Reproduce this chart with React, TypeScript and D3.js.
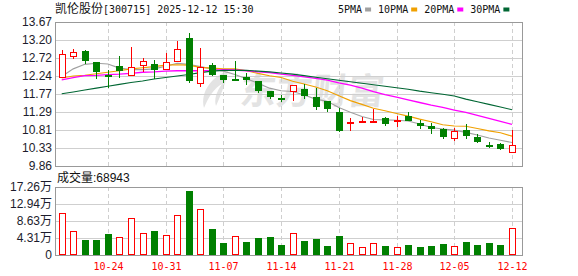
import React from 'react';
import * as d3 from 'd3';

const dates = [
  '10-20', '10-21', '10-22', '10-23', '10-24',
  '10-27', '10-28', '10-29', '10-30', '10-31',
  '11-03', '11-04', '11-05', '11-06', '11-07',
  '11-10', '11-11', '11-12', '11-13', '11-14',
  '11-17', '11-18', '11-19', '11-20', '11-21',
  '11-24', '11-25', '11-26', '11-27', '11-28',
  '12-01', '12-02', '12-03', '12-04', '12-05',
  '12-08', '12-09', '12-10', '12-11', '12-12',
];

const openP = [
  12.21, 12.78, 12.91, 12.61, 12.26, 12.51, 12.26, 12.52, 12.56, 12.43,
  12.63, 13.24, 12.06, 12.54, 12.26, 12.15, 12.21, 12.12, 11.84, 11.65,
  11.85, 11.91, 11.68, 11.59, 11.28, 11.03, 11.05, 11.05, 11.12, 11.06,
  11.18, 11.0, 10.91, 10.85, 10.61, 10.8, 10.63, 10.42, 10.43, 10.23,
];
const closeP = [
  12.82, 12.87, 12.63, 12.36, 12.25, 12.38, 12.49, 12.63, 12.41, 12.61,
  12.95, 12.1, 12.49, 12.26, 12.13, 12.14, 12.13, 11.84, 11.69, 11.64,
  11.99, 11.7, 11.41, 11.37, 10.78, 11.03, 11.05, 11.05, 10.98, 11.07,
  11.05, 10.91, 10.85, 10.63, 10.78, 10.65, 10.49, 10.41, 10.3, 10.42,
];
const highP = [
  12.93, 12.96, 12.93, 12.61, 12.41, 12.78, 13.0, 12.73, 12.67, 12.85,
  13.17, 13.39, 12.99, 12.58, 12.26, 12.65, 12.32, 12.12, 11.84, 11.75,
  11.99, 12.04, 11.93, 11.59, 11.4, 11.14, 11.16, 11.37, 11.16, 11.18,
  11.28, 11.09, 10.99, 10.87, 10.87, 10.98, 10.7, 10.49, 10.48, 10.81,
];
const lowP = [
  12.18, 12.69, 12.56, 12.16, 11.93, 12.2, 12.26, 12.35, 12.16, 12.43,
  12.62, 12.06, 11.94, 12.23, 12.06, 12.1, 11.99, 11.79, 11.64, 11.55,
  11.57, 11.64, 11.35, 11.28, 10.77, 10.78, 11.02, 11.0, 10.91, 10.89,
  11.05, 10.85, 10.7, 10.58, 10.52, 10.58, 10.46, 10.33, 10.28, 10.23,
];
const prevClose = 12.2;

// volume in 万手
const volume = [
  10.58, 6.0, 3.81, 3.81, 5.33, 4.49, 9.31, 5.5, 6.09, 5.0,
  10.07, 16.24, 11.68, 6.6, 3.05, 4.82, 3.3, 4.31, 4.57, 2.54,
  5.5, 3.55, 4.06, 2.28, 4.82, 2.96, 1.95, 2.96, 2.28, 1.95,
  2.54, 2.03, 2.28, 2.71, 2.2, 3.3, 2.54, 3.05, 2.54, 6.8943,
];

const ma5 = [
  12.23, 12.43, 12.55, 12.58, 12.56, 12.45, 12.41, 12.41, 12.43, 12.5,
  12.58, 12.55, 12.49, 12.43, 12.37, 12.28, 12.17, 12.05, 11.92, 11.85,
  11.83, 11.74, 11.63, 11.57, 11.41, 11.28, 11.17, 11.09, 11.08, 11.07,
  11.05, 10.97, 10.88, 10.84, 10.81, 10.75, 10.68, 10.6, 10.54, 10.48,
];
const ma10 = [
  12.19, 12.24, 12.26, 12.3, 12.34, 12.38, 12.43, 12.46, 12.49, 12.53,
  12.54, 12.53, 12.47, 12.45, 12.43, 12.43, 12.38, 12.31, 12.25, 12.2,
  12.1, 12.03, 11.95, 11.85, 11.72, 11.59, 11.49, 11.39, 11.32, 11.25,
  11.18, 11.1, 11.03, 10.95, 10.92, 10.91, 10.85, 10.79, 10.74, 10.65,
];
const ma20 = [
  12.14, 12.2, 12.25, 12.26, 12.28, 12.29, 12.31, 12.34, 12.35, 12.37,
  12.38, 12.38, 12.38, 12.39, 12.41, 12.4, 12.38, 12.35, 12.33, 12.29,
  12.26, 12.22, 12.18, 12.13, 12.06, 12.0, 11.92, 11.83, 11.75, 11.68,
  11.61, 11.54, 11.47, 11.41, 11.34, 11.28, 11.2, 11.12, 11.04, 10.96,
];
const ma30 = [
  11.77, 11.82, 11.87, 11.92, 11.97, 12.02, 12.07, 12.11, 12.16, 12.2,
  12.24, 12.28, 12.33, 12.37, 12.39, 12.39, 12.39, 12.37, 12.35, 12.32,
  12.29, 12.25, 12.21, 12.17, 12.13, 12.09, 12.05, 12.01, 11.97, 11.93,
  11.89, 11.84, 11.8, 11.76, 11.71, 11.63, 11.56, 11.49, 11.42, 11.35,
];

const priceTicks = [13.67, 13.2, 12.72, 12.24, 11.77, 11.29, 10.81, 10.33, 9.86];
const volTicks = [17.26, 12.94, 8.63, 4.31, 0];
const dateTicks = ['10-24', '10-31', '11-07', '11-14', '11-21', '11-28', '12-05', '12-12'];

const maNames = ['5PMA', '10PMA', '20PMA', '30PMA'];
const maColors = ['#a0a0a0', '#f0a000', '#ff00ff', '#006633'];
const maSeries = [ma5, ma10, ma20, ma30];

const stockName = '凯伦股份';
const stockInfo = '[300715] 2025-12-12 15:30';
const watermark = '东方财富';

const RED = '#ff0000';
const GREEN = '#008000';
const MONO = "'DejaVu Sans Mono', monospace";
const CJK = "'Noto Sans CJK SC', sans-serif";
const SANS = "'Liberation Sans', Arial, 'Noto Sans CJK SC', sans-serif";

export default function App() {
  const W = 578;
  const H = 276;
  const L = 55, R = 522, T = 22, MB = 166, VT = 187, VB = 255;

  const x = d3.scalePoint<string>().domain(dates).range([61.7, 512]);
  const y = d3
    .scaleLinear()
    .domain([priceTicks[priceTicks.length - 1], priceTicks[0]])
    .range([MB, T]);
  const yv = d3.scaleLinear().domain([0, volTicks[0]]).range([VB, VT]);

  const cxOf = (d: string) => Math.round(x(d) as number) + 0.5;

  const lineGen = d3
    .line<number>()
    .x((_, i) => x(dates[i]) as number)
    .y((v) => y(v));

  const tickXs = dateTicks.map((d) => cxOf(d));

  // legend layout
  const charW = 6.02;
  let lx = 338;
  const legend = maNames.map((n, i) => {
    const tx = lx;
    const sq = tx + n.length * charW + 3;
    lx = sq + 6 + 7;
    return { n, tx, sq, color: maColors[i] };
  });

  return (
    <svg
      width={W}
      height={H}
      style={{ position: 'absolute', left: 0, top: 0, background: '#fff' }}
    >
      <rect x={0} y={0} width={W} height={H} fill="#fff" />
      {/* title */}
      <text x={55} y={13} fill="#111">
        <tspan fontFamily={CJK} fontSize={12}>{stockName}</tspan>
        <tspan fontFamily={MONO} fontSize={10}>{stockInfo}</tspan>
      </text>
      {/* legend */}
      {legend.map((it) => (
        <g key={it.n}>
          <text x={it.tx} y={12.5} fontFamily={MONO} fontSize={10} fill="#111">
            {it.n}
          </text>
          <rect x={it.sq} y={7.5} width={6} height={4} fill={it.color} />
        </g>
      ))}

      {/* watermark */}
      <g fill="#e3e3e3">
        <text
          x={240}
          y={104}
          fontFamily={CJK}
          fontSize={36}
          fontWeight={700}
          transform="skewX(-6) translate(10,0)"
        >
          {watermark}
        </text>
        <path d="M228,71 C212,76 200,92 204,108 C208,98 214,88 222,84 C216,92 214,100 216,106 C222,92 226,82 228,71 Z" />
      </g>

      {/* main grid */}
      {priceTicks.slice(1, -1).map((p) => (
        <line
          key={'hg' + p}
          x1={L}
          x2={R}
          y1={Math.round(y(p)) + 0.5}
          y2={Math.round(y(p)) + 0.5}
          stroke="#cfcfcf"
        />
      ))}
      {tickXs.map((tx, i) => (
        <line
          key={'vg' + i}
          x1={tx}
          x2={tx}
          y1={T}
          y2={MB}
          stroke="#cfcfcf"
          strokeDasharray="4,3"
        />
      ))}
      <rect x={L + 0.5} y={T + 0.5} width={R - L} height={MB - T} fill="none" stroke="#999" />

      {/* price labels */}
      {priceTicks.map((p) => (
        <text
          key={'pl' + p}
          x={52}
          y={y(p)}
          textAnchor="end"
          dominantBaseline="central"
          fontFamily={SANS}
          fontSize={12}
          fill="#1c1c2c"
        >
          {p.toFixed(2)}
        </text>
      ))}

      {/* MA lines */}
      {maSeries.map((s, i) => (
        <path
          key={'ma' + i}
          d={lineGen(s) || ''}
          fill="none"
          stroke={maColors[i]}
          strokeWidth={i === 2 ? 1.3 : 1.1}
        />
      ))}

      {/* candles */}
      {dates.map((d, i) => {
        const cx = cxOf(d);
        const o = openP[i], c = closeP[i], h = highP[i], l = lowP[i];
        const up = c >= o;
        const yTop = Math.round(y(Math.max(o, c)));
        const yBot = Math.round(y(Math.min(o, c)));
        const yH = Math.round(y(h));
        const yL = Math.round(y(l));
        if (up) {
          const bh = Math.max(yBot - yTop, 1);
          return (
            <g key={'c' + i}>
              {yH < yTop && <line x1={cx} x2={cx} y1={yH} y2={yTop} stroke={RED} />}
              {yL > yTop + bh + 1 && (
                <line x1={cx} x2={cx} y1={yTop + bh + 1} y2={yL} stroke={RED} />
              )}
              <rect x={cx - 3} y={yTop + 0.5} width={6} height={bh} fill="#fff" stroke={RED} />
            </g>
          );
        }
        const bh = Math.max(yBot - yTop, 2);
        return (
          <g key={'c' + i}>
            <line x1={cx} x2={cx} y1={yH} y2={Math.max(yL, yTop + bh)} stroke={GREEN} />
            <rect x={cx - 3.5} y={yTop} width={7} height={bh} fill={GREEN} />
          </g>
        );
      })}

      {/* volume header */}
      <text x={57} y={181.5} fill="#111">
        <tspan fontFamily={CJK} fontSize={12}>成交量</tspan>
        <tspan fontFamily={SANS} fontSize={12}>
          {':' + Math.round(volume[volume.length - 1] * 10000)}
        </tspan>
      </text>

      {/* volume grid */}
      {volTicks.slice(1, -1).map((v) => (
        <line
          key={'vhg' + v}
          x1={L}
          x2={R}
          y1={Math.round(yv(v)) + 0.5}
          y2={Math.round(yv(v)) + 0.5}
          stroke="#cfcfcf"
        />
      ))}
      {tickXs.map((tx, i) => (
        <line
          key={'vvg' + i}
          x1={tx}
          x2={tx}
          y1={VT}
          y2={VB}
          stroke="#cfcfcf"
          strokeDasharray="4,3"
        />
      ))}
      <rect x={L + 0.5} y={VT + 0.5} width={R - L} height={VB - VT} fill="none" stroke="#999" />

      {volTicks.map((v) => (
        <text
          key={'vl' + v}
          x={52}
          y={yv(v)}
          textAnchor="end"
          dominantBaseline="central"
          fontFamily={SANS}
          fontSize={12}
          fill="#1c1c2c"
        >
          {v === 0 ? '0' : v.toFixed(2) + '万'}
        </text>
      ))}

      {/* volume bars */}
      {dates.map((d, i) => {
        const cx = cxOf(d);
        const pc = i === 0 ? prevClose : closeP[i - 1];
        const up = closeP[i] >= pc;
        const yt = Math.round(yv(volume[i]));
        if (up) {
          return (
            <rect
              key={'v' + i}
              x={cx - 3}
              y={yt + 0.5}
              width={6}
              height={VB - yt - 1}
              fill="#fff"
              stroke={RED}
            />
          );
        }
        return <rect key={'v' + i} x={cx - 3.5} y={yt} width={7} height={VB - yt} fill={GREEN} />;
      })}

      {/* date labels */}
      {dateTicks.map((d, i) => (
        <text
          key={'dl' + d}
          x={tickXs[i]}
          y={270}
          textAnchor="middle"
          fontFamily={MONO}
          fontSize={10}
          fill={RED}
        >
          {d}
        </text>
      ))}
    </svg>
  );
}
